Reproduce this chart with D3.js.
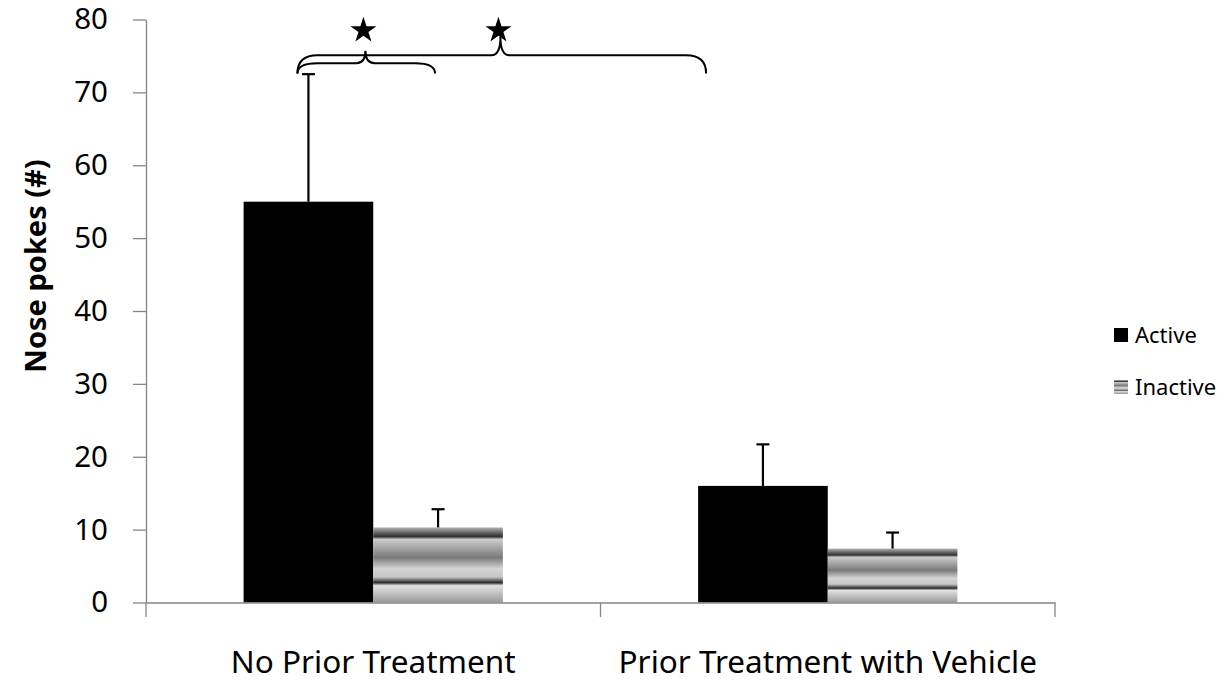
<!DOCTYPE html>
<html>
<head>
<meta charset="utf-8">
<script src="https://cdn.jsdelivr.net/npm/d3@7"></script>
<style>
  body { margin: 0; background: #fff; }
  text { font-family: "Noto Sans", sans-serif; fill: #000; }
</style>
</head>
<body>
<div id="chart"></div>
<script>
// data
var categories = ["No Prior Treatment", "Prior Treatment with Vehicle"];
var series = ["Active", "Inactive"];
var activeMeans = [55, 16];
var activeErrors = [17.5, 5.7];
var inactiveMeans = [10.3, 7.4];
var inactiveErrors = [2.5, 2.2];
var yTicks = [0, 10, 20, 30, 40, 50, 60, 70, 80];

var width = 1229, height = 681;
var margin = { top: 19.5, right: 174, bottom: 78.5, left: 146 };
var plotW = width - margin.left - margin.right,
    plotH = height - margin.top - margin.bottom;

var svg = d3.select("#chart")
    .append("svg")
    .attr("width", width)
    .attr("height", height);

// striped gradient for the inactive bars
var defs = svg.append("defs");
var grad = defs.append("linearGradient")
    .attr("id", "stripes")
    .attr("x1", 0).attr("y1", 0).attr("x2", 0).attr("y2", 1);
[[0, "#b4b4b4"], [0.12, "#2e2e2e"], [0.16, "#cccccc"], [0.40, "#7a7a7a"],
 [0.55, "#d4d4d4"], [0.66, "#c6c6c6"], [0.735, "#2a2a2a"], [0.775, "#e2e2e2"],
 [1, "#9a9a9a"]].forEach(function (s) {
    grad.append("stop").attr("offset", s[0]).attr("stop-color", s[1]);
});

var g = svg.append("g")
    .attr("transform", "translate(" + margin.left + "," + margin.top + ")");

var x0 = d3.scaleBand().domain(categories).range([0, plotW]).padding(0);
var x1 = d3.scaleBand().domain(series).range([0, x0.bandwidth()])
    .paddingInner(0).paddingOuter(0.753);
var y = d3.scaleLinear().domain([0, 80]).range([plotH, 0]);

var rows = [];
categories.forEach(function (c, i) {
    rows.push({ cat: c, s: "Active", v: activeMeans[i], e: activeErrors[i] });
    rows.push({ cat: c, s: "Inactive", v: inactiveMeans[i], e: inactiveErrors[i] });
});

// y axis
var yAxis = g.append("g")
    .call(d3.axisLeft(y).tickValues(yTicks).tickSize(13).tickSizeOuter(0).tickPadding(25));
yAxis.select(".domain").attr("stroke", "#868686").attr("stroke-width", 1.3);
yAxis.selectAll(".tick line").attr("stroke", "#868686").attr("stroke-width", 1.3);
yAxis.selectAll(".tick text")
    .attr("font-size", "29.5px")
    .attr("font-family", "Noto Sans")
    .attr("fill", "#000");

// bars
g.selectAll(".bar")
    .data(rows)
    .enter()
    .append("rect")
    .attr("class", "bar")
    .attr("x", function (d) { return x0(d.cat) + x1(d.s); })
    .attr("y", function (d) { return y(d.v); })
    .attr("width", x1.bandwidth())
    .attr("height", function (d) { return y(0) - y(d.v); })
    .attr("fill", function (d) { return d.s === "Active" ? "#000" : "url(#stripes)"; });

// error bars (upper only)
var eb = g.selectAll(".err")
    .data(rows)
    .enter()
    .append("g")
    .attr("class", "err")
    .attr("transform", function (d) {
        return "translate(" + (x0(d.cat) + x1(d.s) + x1.bandwidth() / 2) + ",0)";
    });
eb.append("line")
    .attr("x1", 0).attr("x2", 0)
    .attr("y1", function (d) { return y(d.v); })
    .attr("y2", function (d) { return y(d.v + d.e); })
    .attr("stroke", "#000").attr("stroke-width", 2.2);
eb.append("line")
    .attr("x1", -6.5).attr("x2", 6.5)
    .attr("y1", function (d) { return y(d.v + d.e); })
    .attr("y2", function (d) { return y(d.v + d.e); })
    .attr("stroke", "#000").attr("stroke-width", 2.2);

// x axis
var xAxis = g.append("g")
    .attr("transform", "translate(0," + plotH + ")")
    .call(d3.axisBottom(x0).tickSize(0).tickPadding(48.5));
xAxis.select(".domain").attr("stroke", "#868686").attr("stroke-width", 1.3);
xAxis.selectAll(".tick text")
    .attr("font-size", "31.5px")
    .attr("font-family", "Noto Sans")
    .attr("fill", "#000");
// category boundary ticks
var bounds = categories.map(function (c) { return x0(c); }).concat([x0.range()[1]]);
xAxis.selectAll(".bound")
    .data(bounds)
    .enter()
    .append("line")
    .attr("class", "bound")
    .attr("x1", function (d) { return d; })
    .attr("x2", function (d) { return d; })
    .attr("y1", 0).attr("y2", 14.5)
    .attr("stroke", "#868686").attr("stroke-width", 1.3);

// y title
svg.append("text")
    .attr("transform", "translate(46,266) rotate(-90)")
    .attr("text-anchor", "middle")
    .attr("font-size", "29px")
    .attr("font-weight", "bold")
    .text("Nose pokes (#)");

// significance braces
function barCenter(cat, s) { return x0(cat) + x1(s) + x1.bandwidth() / 2; }
var braces = [
    { xa: barCenter(categories[0], "Active") - 11, xb: barCenter(categories[0], "Inactive") - 3,
      xm: barCenter(categories[0], "Active") + 57, line: 74, tip: 75.7 },
    { xa: barCenter(categories[0], "Active") - 11, xb: x0(categories[1]) + x1("Active") + 8,
      xm: barCenter(categories[0], "Active") + 192, line: 75.1, tip: 77.6 }
];
var yEnd = 72.6;
function bracePath(b) {
    var ye = y(yEnd), yl = y(b.line), yt = y(b.tip), r = 20, r2 = 9;
    return "M" + b.xa + "," + ye +
        "Q" + b.xa + "," + yl + " " + (b.xa + r) + "," + yl +
        "L" + (b.xm - r2) + "," + yl +
        "Q" + b.xm + "," + yl + " " + b.xm + "," + yt +
        "Q" + b.xm + "," + yl + " " + (b.xm + r2) + "," + yl +
        "L" + (b.xb - r) + "," + yl +
        "Q" + b.xb + "," + yl + " " + b.xb + "," + ye;
}
g.selectAll(".brace")
    .data(braces)
    .enter()
    .append("path")
    .attr("class", "brace")
    .attr("d", bracePath)
    .attr("fill", "none")
    .attr("stroke", "#000")
    .attr("stroke-width", 2);

g.selectAll(".star")
    .data(braces)
    .enter()
    .append("path")
    .attr("class", "star")
    .attr("d", d3.symbol().type(d3.symbolStar).size(210))
    .attr("transform", function (d) { return "translate(" + (d.xm - 2) + "," + y(78.5) + ")"; })
    .attr("fill", "#000");

// legend
var legend = svg.append("g").attr("transform", "translate(1114,328)");
var li = legend.selectAll(".li")
    .data(series)
    .enter()
    .append("g")
    .attr("class", "li")
    .attr("transform", function (d, i) { return "translate(0," + (i * 52) + ")"; });
li.append("rect")
    .attr("width", 14).attr("height", 14)
    .attr("fill", function (d) { return d === "Active" ? "#000" : "url(#stripes)"; });
li.append("text")
    .attr("x", 21)
    .attr("y", 7)
    .attr("dy", "0.36em")
    .attr("font-size", "22px")
    .text(function (d) { return d; });
</script>
</body>
</html>
